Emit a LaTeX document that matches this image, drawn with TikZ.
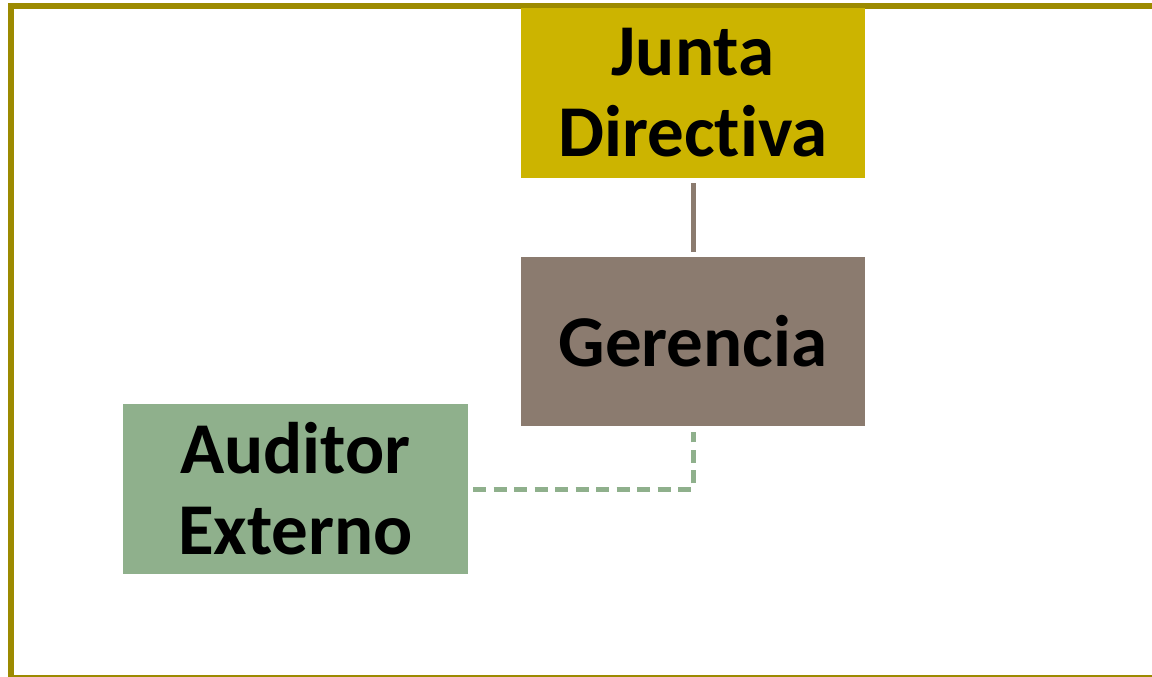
\documentclass[tikz,border=0pt]{standalone}
\usepackage{fontspec}
\newfontfamily\carl[RawFeature=-liga]{Carlito}
\definecolor{frameol}{HTML}{9C8A00}
\definecolor{junta}{HTML}{CCB400}
\definecolor{geren}{HTML}{8B7B6F}
\definecolor{audit}{HTML}{8FB08C}
\begin{document}
\begin{tikzpicture}[x=1pt,y=-1pt,
  box/.style={rectangle, minimum width=344pt, minimum height=170pt, inner sep=0pt,
    align=center, font=\carl\bfseries\fontsize{73}{81}\selectfont, text=black},
  solidlink/.style={draw=geren, line width=5pt, shorten <=5pt, shorten >=5pt},
  dashlink/.style={draw=audit, line width=5pt, dash pattern=on 13pt off 7.5pt, shorten <=5pt, shorten >=6pt}]
\useasboundingbox (0,0) rectangle (1152,677);
\clip (0,0) rectangle (1152,677);
\fill[white] (0,0) rectangle (1152,677);
\draw[frameol, line width=6pt] (10.5,6) rectangle (1170,677.5);
\node[box, fill=junta] (jd) at (693,93) {Junta\\Directiva};
\node[box, fill=geren, minimum height=169pt] (ge) at (693,341.5) {Gerencia};
\node[box, fill=audit, minimum width=345pt] (ae) at (295.5,489) {Auditor\\Externo};
\draw[solidlink] (jd.south) -- (ge.north);
\draw[dashlink] (ae.east) -| (ge.south);
\end{tikzpicture}
\end{document}
